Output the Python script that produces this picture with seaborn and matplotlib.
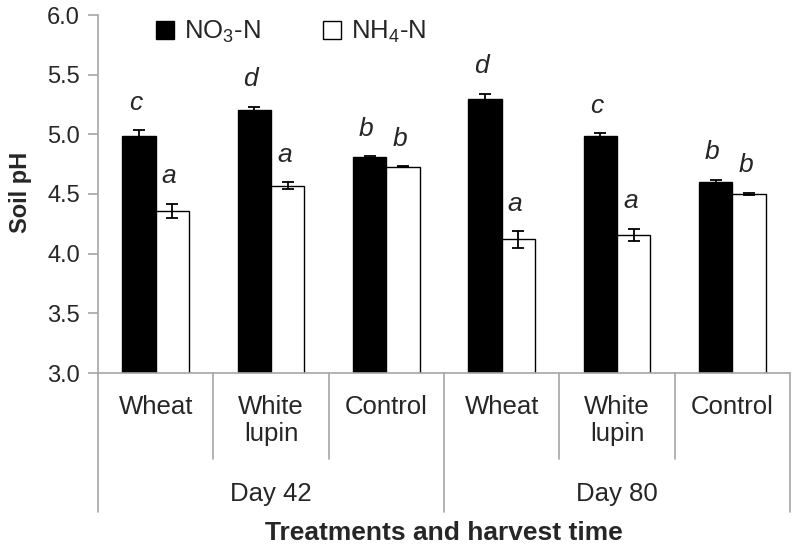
import numpy as np
import pandas as pd
import seaborn as sns
import matplotlib.pyplot as plt
import matplotlib.transforms as mtransforms
from matplotlib.patches import Patch
from matplotlib.lines import Line2D

# values
categories = ['Wheat', 'White\nlupin', 'Control', 'Wheat', 'White\nlupin', 'Control']
days = ['Day 42', 'Day 80']
no3 = [4.99, 5.20, 4.81, 5.30, 4.99, 4.60]
no3_se = [0.045, 0.03, 0.005, 0.04, 0.02, 0.02]
nh4 = [4.36, 4.57, 4.73, 4.12, 4.16, 4.50]
nh4_se = [0.06, 0.03, 0.005, 0.07, 0.05, 0.01]
no3_letters = ['c', 'd', 'b', 'd', 'c', 'b']
nh4_letters = ['a', 'a', 'b', 'a', 'a', 'b']
forms = ['NO3-N', 'NH4-N']

keys = [f'{i}' for i in range(len(categories))]
df = pd.DataFrame({
    'key': keys * 2,
    'form': [forms[0]] * 6 + [forms[1]] * 6,
    'pH': no3 + nh4,
})

sns.set_style('white')
plt.rcParams['font.family'] = ['Liberation Sans', 'DejaVu Sans']
plt.rcParams['mathtext.fontset'] = 'custom'
plt.rcParams['mathtext.rm'] = 'Liberation Sans'
plt.rcParams['mathtext.it'] = 'Liberation Sans:italic'

fig = plt.figure(figsize=(7.96, 5.5), dpi=100)
ax = fig.add_axes([98 / 796, 1 - 373 / 550, 692 / 796, 358 / 550])

sns.barplot(data=df, x='key', y='pH', hue='form', order=keys, hue_order=forms,
            palette=['black', 'white'], edgecolor='black', linewidth=1,
            width=0.58, legend=False, ax=ax)

ax.set_ylim(3.0, 6.0)
ax.set_xlim(-0.5, 5.5)
ax.set_yticks(np.arange(3.0, 6.01, 0.5))
ax.set_yticklabels([f'{v:.1f}' for v in np.arange(3.0, 6.01, 0.5)], fontsize=17)
ax.set_xticks([])
ax.set_xlabel('')
ax.set_ylabel('')
gray = '#a6a6a6'
for s in ['top', 'right']:
    ax.spines[s].set_visible(False)
for s in ['left', 'bottom']:
    ax.spines[s].set_color(gray)
    ax.spines[s].set_linewidth(1.2)
ax.tick_params(axis='y', direction='out', length=7, width=1.2, color=gray, pad=6, left=True)

# error bars and letters
for cont, vals, errs, letters in [(ax.containers[0], no3, no3_se, no3_letters),
                                  (ax.containers[1], nh4, nh4_se, nh4_letters)]:
    for bar, v, e, let in zip(cont, vals, errs, letters):
        xc = bar.get_x() + bar.get_width() / 2
        ax.errorbar(xc, v, yerr=e, fmt='none', ecolor='black', elinewidth=1.3,
                    capsize=4, capthick=1.3, zorder=5)
        ax.text(xc - 0.03, v + e + 0.23, let, ha='center', va='center',
                fontsize=19, style='italic')

# category axis with group separators
trans = mtransforms.blended_transform_factory(ax.transData, fig.transFigure)
for i in range(len(categories) + 1):
    xb = i - 0.5
    ylow = 1 - 512 / 550 if i in (0, 3, 6) else 1 - 459 / 550
    fig.add_artist(Line2D([xb, xb], [1 - 373 / 550, ylow], transform=trans,
                          color=gray, lw=1.2, clip_on=False))
for i, c in enumerate(categories):
    fig.text(i, 1 - 395 / 550, c, transform=trans, ha='center', va='top',
             fontsize=18.5, linespacing=1.15)
for j, d in enumerate(days):
    fig.text(1 + 3 * j, 1 - 494 / 550, d, transform=trans, ha='center',
             va='center', fontsize=18.5)

fig.text(444 / 796, 1 - 533 / 550, 'Treatments and harvest time', ha='center',
         va='center', fontsize=19, fontweight='bold')
fig.text(20 / 796, 1 - 192 / 550, 'Soil pH', ha='center', va='center',
         rotation=90, fontsize=17, fontweight='bold')

handles = [Patch(facecolor='black', edgecolor='black'),
           Patch(facecolor='white', edgecolor='black')]
fig.legend(handles, [r'NO${}_3$-N', r'NH${}_4$-N'], loc='center left',
           bbox_to_anchor=(156 / 796, 1 - 32 / 550), ncol=2, frameon=False,
           fontsize=18.5, handlelength=0.7, handleheight=0.7,
           handletextpad=0.4, columnspacing=2.4, borderpad=0, borderaxespad=0)

fig.savefig('out.png', dpi=100)
